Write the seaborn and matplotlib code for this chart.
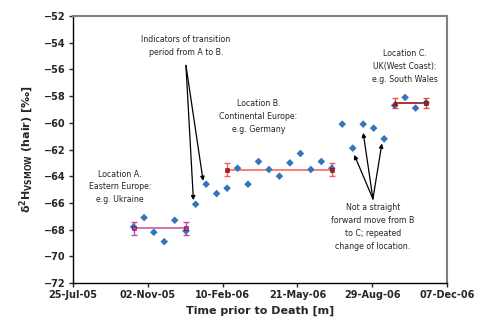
import pandas as pd
import numpy as np
import matplotlib
matplotlib.use('Agg')
import matplotlib.pyplot as plt
import seaborn as sns

# values
dates = ['2005-10-14', '2005-10-28', '2005-11-10', '2005-11-24', '2005-12-08', '2005-12-23',
         '2006-01-05', '2006-01-19', '2006-02-02', '2006-02-16', '2006-03-02', '2006-03-16',
         '2006-03-30', '2006-04-13', '2006-04-27', '2006-05-11', '2006-05-25', '2006-06-08',
         '2006-06-22', '2006-07-06', '2006-07-20', '2006-08-03', '2006-08-17', '2006-08-31',
         '2006-09-14', '2006-09-28', '2006-10-12', '2006-10-26', '2006-11-09']
d2h = [-67.8, -67.1, -68.2, -68.9, -67.3, -68.1,
       -66.1, -64.6, -65.3, -64.9, -63.4, -64.6,
       -62.9, -63.5, -64.0, -63.0, -62.3, -63.5,
       -62.9, -63.4, -60.1, -61.9, -60.1, -60.4,
       -61.2, -58.7, -58.1, -58.9, -58.5]

# location means (start, end, mean, error)
loc_start = ['2005-10-14', '2006-02-16', '2006-09-28']
loc_end = ['2005-12-23', '2006-07-06', '2006-11-09']
loc_mean = [-67.9, -63.5, -58.55]
loc_err = [0.5, 0.47, 0.37]

tick_dates = ['2005-07-25', '2005-11-02', '2006-02-10', '2006-05-21', '2006-08-29', '2006-12-07']
tick_labels = ['25-Jul-05', '02-Nov-05', '10-Feb-06', '21-May-06', '29-Aug-06', '07-Dec-06']

df = pd.DataFrame({'date': pd.to_datetime(dates), 'd2h': d2h})

sns.set_style('ticks')
plt.rcParams['font.family'] = ['DejaVu Sans']

fig = plt.figure(figsize=(4.85, 3.25), dpi=100)
ax = fig.add_axes([0.1505, 0.1292, 0.7711, 0.8216])

# location mean lines with error bars at their ends
line_cols = ['#CC5CAA', '#FF6666', '#A01010']
err_cols = ['#B84DA0', '#F06060', '#E05A3A']
end_marks = [('s', 's'), ('s', 's'), ('^', 's')]
mark_cols = ['#B040A0', '#CC1010', '#CC1010']
for i in range(3):
    xs = pd.to_datetime([loc_start[i], loc_end[i]])
    ys = [loc_mean[i], loc_mean[i]]
    ax.plot(xs, ys, color=line_cols[i], lw=1.2, zorder=2)
    ax.errorbar(xs, ys, yerr=loc_err[i], fmt='none', ecolor=err_cols[i],
                elinewidth=1, capsize=2.5, capthick=1, zorder=2)
    ax.plot(xs[:1], ys[:1], marker=end_marks[i][0], ms=3.5, color=mark_cols[i],
            mec='#661111', mew=0.4, zorder=4)
    ax.plot(xs[1:], ys[1:], marker=end_marks[i][1], ms=3.5, color=mark_cols[i],
            mec='#661111', mew=0.4, zorder=4)

sns.scatterplot(data=df, x='date', y='d2h', marker='D', s=15, color='#3374BC',
                edgecolor='none', ax=ax, zorder=3)

ax.set_xlim(pd.Timestamp(tick_dates[0]), pd.Timestamp(tick_dates[-1]))
ax.set_ylim(-72, -52)
ax.set_yticks(np.arange(-72, -51, 2))
ax.set_xticks(pd.to_datetime(tick_dates))
ax.set_xticklabels(tick_labels)
ax.tick_params(axis='both', labelsize=7, length=3, width=1, direction='out', pad=2)
for lab in ax.get_xticklabels() + ax.get_yticklabels():
    lab.set_fontweight('bold')

for side in ['left', 'bottom']:
    ax.spines[side].set_color('black')
    ax.spines[side].set_linewidth(1)
for side in ['top', 'right']:
    ax.spines[side].set_visible(True)
    ax.spines[side].set_color('#808080')
    ax.spines[side].set_linewidth(1.5)

ax.set_xlabel('Time prior to Death [m]', fontsize=8, fontweight='bold', labelpad=4)
ax.set_ylabel('δ' + r'$^{\mathbf{2}}\mathbf{H}_{\mathbf{VSMOW}}$ (hair) [‰]', fontsize=8,
              fontweight='bold', labelpad=6)

txt = dict(fontsize=5.7, ha='center', va='center', linespacing=1.55)
ax.text(pd.Timestamp('2005-09-26'), -64.8, 'Location A.\nEastern Europe:\ne.g. Ukraine', **txt)
ax.text(pd.Timestamp('2006-03-30'), -59.55, 'Location B.\nContinental Europe:\ne.g. Germany', **txt)
ax.text(pd.Timestamp('2006-10-12'), -55.8, 'Location C.\nUK(West Coast):\ne.g. South Wales', **txt)
ax.text(pd.Timestamp('2006-08-30'), -67.8,
        'Not a straight\nforward move from B\nto C; repeated\nchange of location.', **txt)
ax.text(pd.Timestamp('2005-12-23'), -54.25, 'Indicators of transition\nperiod from A to B.', **txt)

arrow = dict(arrowstyle='-|>', color='black', lw=0.9, mutation_scale=6, shrinkA=0, shrinkB=0)
src1 = (pd.Timestamp('2005-12-23'), -55.7)
for tx, ty in [('2006-01-02', -65.8), ('2006-01-15', -64.35)]:
    ax.annotate('', xy=(pd.Timestamp(tx), ty), xytext=src1, arrowprops=arrow)
src2 = (pd.Timestamp('2006-08-30'), -65.7)
for tx, ty in [('2006-08-05', -62.4), ('2006-08-17', -60.75), ('2006-09-11', -61.55)]:
    ax.annotate('', xy=(pd.Timestamp(tx), ty), xytext=src2, arrowprops=arrow)

fig.savefig('out.png', dpi=100)
